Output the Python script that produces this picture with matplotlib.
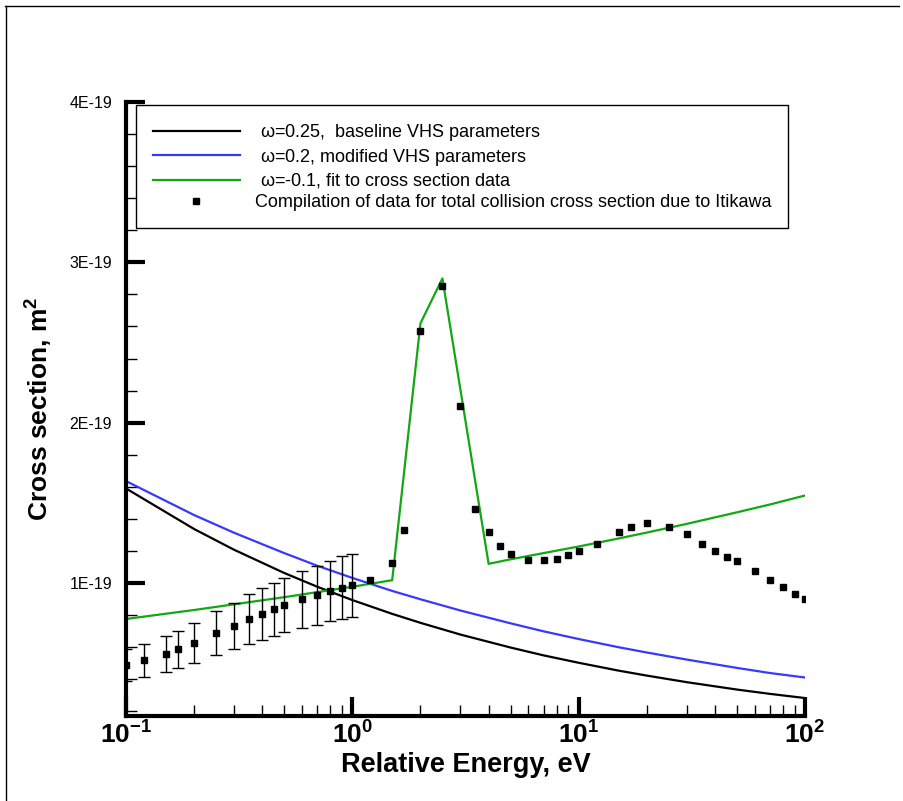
import matplotlib
matplotlib.use("Agg")
import matplotlib.pyplot as plt
from matplotlib.lines import Line2D
from matplotlib.ticker import LogLocator, MultipleLocator, FixedLocator, NullFormatter

plt.rcParams['font.family'] = ['Liberation Sans', 'DejaVu Sans']
plt.rcParams['mathtext.fontset'] = 'custom'
plt.rcParams['mathtext.rm'] = 'Liberation Sans'
plt.rcParams['mathtext.bf'] = 'Liberation Sans:bold'
plt.rcParams['mathtext.default'] = 'bf'

# cross sections in units of 1E-19 m^2
E_line = [0.1, 0.2, 0.3, 0.5, 0.7, 1.0, 1.5, 2.0, 3.0, 5.0, 7.0, 10, 15, 20, 30, 50, 70, 100]
sig_w025 = [1.590, 1.337, 1.208, 1.063, 0.977, 0.894, 0.808, 0.752, 0.679, 0.598,
            0.549, 0.503, 0.454, 0.423, 0.382, 0.336, 0.309, 0.283]
sig_w020 = [1.636, 1.424, 1.314, 1.187, 1.108, 1.032, 0.951, 0.899, 0.829, 0.749,
            0.699, 0.651, 0.600, 0.567, 0.523, 0.471, 0.439, 0.411]

E_fit = [0.1, 0.2, 0.5, 1.0, 1.5, 2.0, 2.5, 3.0, 4.0, 5.0, 7.0, 10, 15, 20, 30, 50, 70, 100]
sig_fit = [0.776, 0.832, 0.912, 0.977, 1.018, 2.62, 2.90, 2.21, 1.12, 1.148,
           1.187, 1.228, 1.278, 1.315, 1.369, 1.441, 1.490, 1.546]

# Itikawa compilation
E_data = [0.1, 0.12, 0.15, 0.17, 0.2, 0.25, 0.3, 0.35, 0.4, 0.45, 0.5, 0.6, 0.7, 0.8, 0.9, 1.0,
          1.2, 1.5, 1.7, 2.0, 2.5, 3.0, 3.5, 4.0, 4.5, 5.0, 6.0, 7.0, 8.0, 9.0, 10,
          12, 15, 17, 20, 25, 30, 35, 40, 45, 50, 60, 70, 80, 90, 100]
sig_data = [0.489, 0.518, 0.558, 0.587, 0.626, 0.688, 0.732, 0.774, 0.807, 0.836, 0.863,
            0.898, 0.925, 0.950, 0.971, 0.986, 1.02, 1.123, 1.332, 2.572, 2.850, 2.103,
            1.463, 1.32, 1.23, 1.18, 1.141, 1.141, 1.151, 1.174, 1.20, 1.243, 1.320,
            1.349, 1.372, 1.349, 1.303, 1.243, 1.201, 1.162, 1.135, 1.073, 1.021,
            0.975, 0.931, 0.898]
# error bars for the low energy points (first 16)
err_data = [0.098, 0.105, 0.111, 0.116, 0.124, 0.135, 0.146, 0.155, 0.160, 0.163, 0.168,
            0.178, 0.184, 0.189, 0.195, 0.196]

labels = [r' $\mathregular{\omega}$=0.25,  baseline VHS parameters',
          r' $\mathregular{\omega}$=0.2, modified VHS parameters',
          r' $\mathregular{\omega}$=-0.1, fit to cross section data',
          'Compilation of data for total collision cross section due to Itikawa']

s = 1e-19
fig = plt.figure(figsize=(9.04, 8.01), dpi=100)
ax = fig.add_axes([126/904, 85/801, 679/904, 614/801])

ax.plot(E_line, [v*s for v in sig_w025], color='black', lw=1.6, label=labels[0])
ax.plot(E_line, [v*s for v in sig_w020], color='#3838ff', lw=1.6, label=labels[1])
ax.plot(E_fit, [v*s for v in sig_fit], color='#12a812', lw=1.6, label=labels[2])
n = len(err_data)
ax.errorbar(E_data[:n], [v*s for v in sig_data[:n]], yerr=[v*s for v in err_data],
            fmt='none', ecolor='black', elinewidth=1, capsize=4.5, capthick=1)
ax.plot(E_data, [v*s for v in sig_data], ls='none', marker='s', color='black',
        markersize=5, label=labels[3])

ax.set_xscale('log')
ax.set_xlim(0.1, 100)
ax.set_ylim(0.171*s, 4.0*s)

ax.xaxis.set_minor_locator(LogLocator(base=10, subs=range(2, 10), numticks=10))
ax.xaxis.set_minor_formatter(NullFormatter())
ax.set_xticks([0.1, 1, 10, 100])
ax.set_xticklabels([r'$10^{-1}$', r'$10^{0}$', r'$10^{1}$', r'$10^{2}$'], fontsize=19)

yt = [1, 2, 3, 4]
ax.yaxis.set_major_locator(FixedLocator([v*s for v in yt]))
ax.yaxis.set_minor_locator(MultipleLocator(0.2*s))
ax.set_yticklabels(['%dE-19' % v for v in yt], fontsize=11.5)

for sp in ['top', 'right']:
    ax.spines[sp].set_visible(False)
for sp in ['left', 'bottom']:
    ax.spines[sp].set_linewidth(3)

ax.tick_params(which='major', direction='in', length=14, width=3)
ax.tick_params(which='minor', direction='in', length=8, width=1)
ax.tick_params(axis='y', which='major', pad=10)
ax.tick_params(axis='x', which='major', pad=4)

ax.set_xlabel('Relative Energy, eV', fontsize=19.5, fontweight='bold', labelpad=2)
ax.set_ylabel(r'Cross section, m$^2$', fontsize=19, fontweight='bold', labelpad=10)

leg = ax.legend(loc='upper left', bbox_to_anchor=(10/679, 611/614), borderaxespad=0,
                fontsize=13, frameon=True, fancybox=False, framealpha=1,
                edgecolor='black', handlelength=4.8, handletextpad=0.83,
                labelspacing=0.2, borderpad=0.95, numpoints=1)
leg.get_frame().set_linewidth(1)

# figure border
fig.add_artist(Line2D([5/904, 899/904], [1-6/801, 1-6/801], color='black', lw=1))
fig.add_artist(Line2D([6/904, 6/904], [0, 1-6/801], color='black', lw=1))

fig.savefig('out.png', dpi=100)
